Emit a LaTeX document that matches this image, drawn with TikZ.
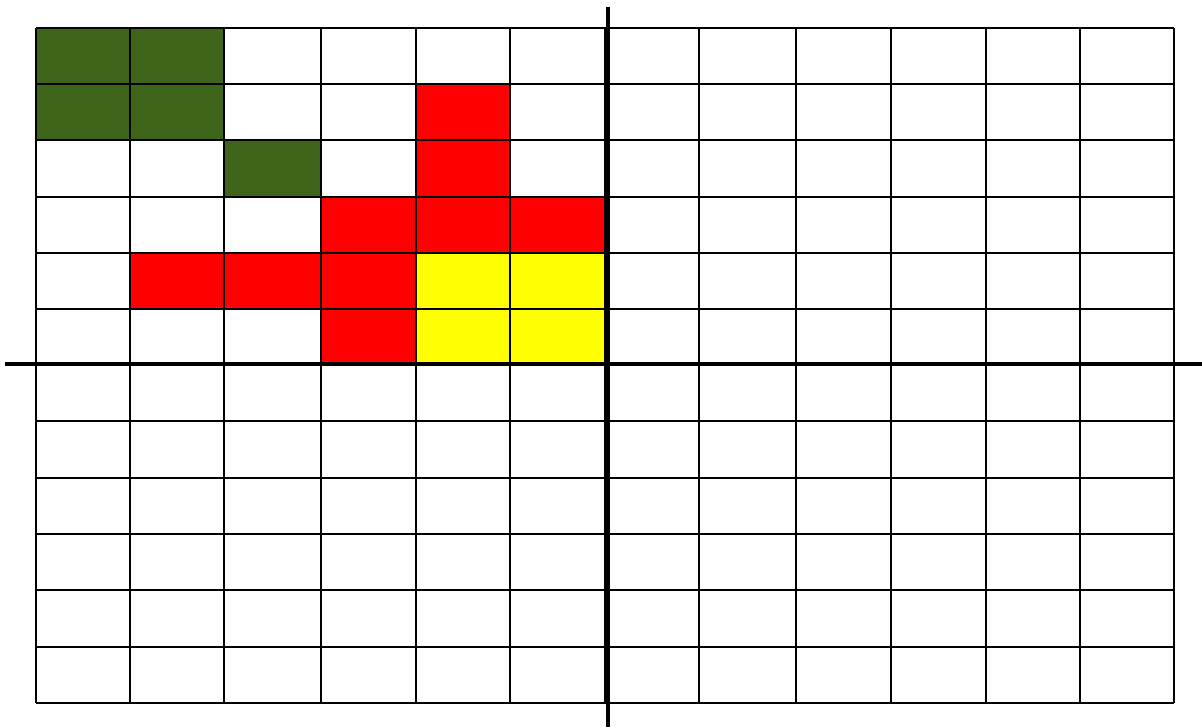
\documentclass[tikz,border=0pt]{standalone}
\definecolor{dgreen}{HTML}{3D6418}
\definecolor{myred}{HTML}{FF0000}
\definecolor{myyellow}{HTML}{FFFF00}
\begin{document}
\begin{tikzpicture}[x=1pt,y=-1pt,
  gridline/.style={line width=1.6pt,black},
  axisline/.style={line width=4pt,black}]
\useasboundingbox[fill=white] (0,0) rectangle (1202,728);
\def\xs{{36,130,224,321,416,510,605,699,796,891,986,1080,1174}}
\def\ys{{28,84,140,197,253,309,365,421,478,534,590,647,703}}
% cells: col/row/color
\foreach \c/\r/\col in {0/0/dgreen,1/0/dgreen,0/1/dgreen,1/1/dgreen,2/2/dgreen,
  4/1/myred,4/2/myred,3/3/myred,4/3/myred,5/3/myred,1/4/myred,2/4/myred,3/4/myred,3/5/myred,
  4/4/myyellow,5/4/myyellow,4/5/myyellow,5/5/myyellow}{
  \pgfmathsetmacro{\xa}{\xs[\c]}
  \pgfmathsetmacro{\xb}{\xs[\c+1]}
  \pgfmathsetmacro{\ya}{\ys[\r]}
  \pgfmathsetmacro{\yb}{\ys[\r+1]}
  \fill[\col] (\xa,\ya) rectangle (\xb,\yb);
}
\foreach \i in {0,...,12}{
  \pgfmathsetmacro{\xx}{\xs[\i]}
  \draw[gridline] (\xx,28) -- (\xx,703);
  \pgfmathsetmacro{\yy}{\ys[\i]}
  \draw[gridline] (36,\yy) -- (1174,\yy);
}
\draw[axisline,line width=3.5pt] (5,364) -- (1202,364);
\draw[axisline,line width=4.5pt] (608,7) -- (608,727);
\end{tikzpicture}
\end{document}
